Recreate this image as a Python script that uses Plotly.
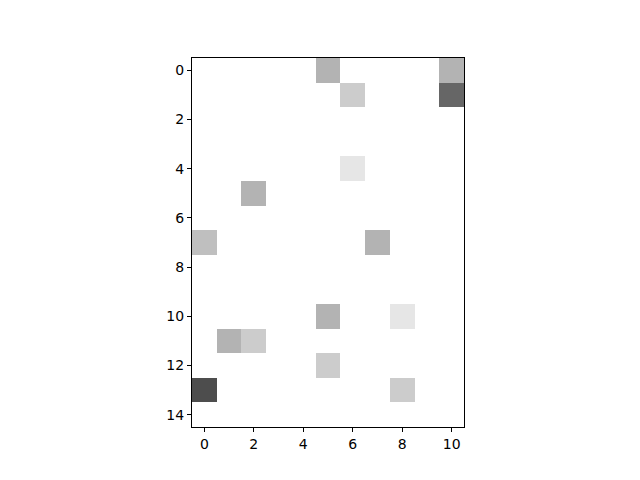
import numpy as np
import plotly.graph_objects as go

n_rows = 15
n_cols = 11

# nonzero cells: (row, col, value)
rows = [0, 0, 1, 1, 4, 5, 7, 7, 10, 10, 11, 11, 12, 13, 13]
cols = [5, 10, 6, 10, 6, 2, 0, 7, 5, 8, 1, 2, 5, 0, 8]
vals = [0.3, 0.3, 0.2, 0.6, 0.1, 0.3, 0.25, 0.3, 0.3, 0.1, 0.3, 0.2, 0.2, 0.7, 0.2]

x_ticks = [0, 2, 4, 6, 8, 10]
y_ticks = [0, 2, 4, 6, 8, 10, 12, 14]

z = np.zeros((n_rows, n_cols))
for r, c, v in zip(rows, cols, vals):
    z[r, c] = v

fig = go.Figure(
    go.Heatmap(
        z=z,
        x=list(range(n_cols)),
        y=list(range(n_rows)),
        colorscale=[[0, "white"], [1, "black"]],
        zmin=0,
        zmax=1,
        showscale=False,
    )
)

# page body has an 8px margin, so shift the plot area back
fig.update_layout(
    width=640,
    height=480,
    plot_bgcolor="white",
    paper_bgcolor="white",
    margin=dict(l=184, r=184, t=50, b=61),
    font=dict(family="DejaVu Sans", size=14, color="black"),
)

axis_style = dict(
    showline=True,
    mirror=True,
    linecolor="black",
    linewidth=1,
    ticks="outside",
    ticklen=4,
    tickcolor="black",
    showgrid=False,
    zeroline=False,
)
fig.update_xaxes(range=[-0.5, 10.5], tickvals=x_ticks, **axis_style)
fig.update_yaxes(range=[14.5, -0.5], tickvals=y_ticks, **axis_style)

fig.write_html("out.html")
